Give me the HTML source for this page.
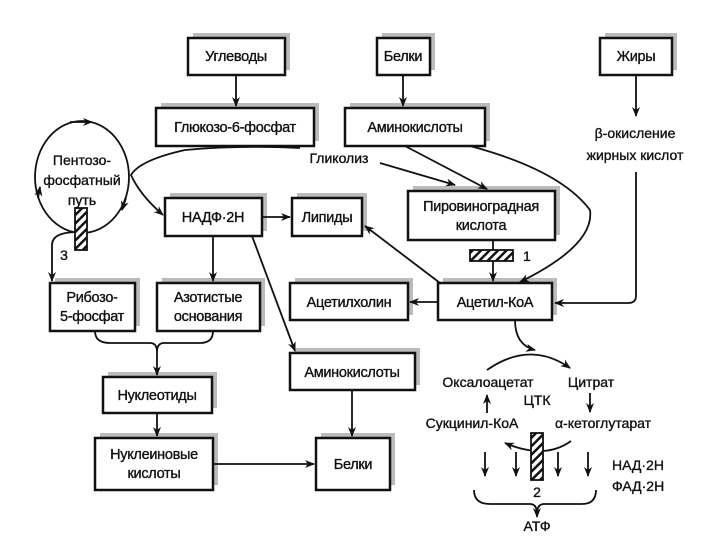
<!DOCTYPE html>
<html><head><meta charset="utf-8"><style>
html,body{margin:0;padding:0;background:#fff;}
svg{display:block;}
text{font-family:"Liberation Sans","DejaVu Sans",sans-serif;font-size:14px;fill:#111;stroke:#111;stroke-width:0.35;text-anchor:middle;}
.bx text{font-size:14.5px;letter-spacing:-0.3px;}
.b{fill:#fff;stroke:#111;stroke-width:2.5;}
.s{fill:#bbb;}
.l{fill:none;stroke:#111;stroke-width:1.8;}
</style></head><body>
<svg width="720" height="540" viewBox="0 0 720 540" xmlns="http://www.w3.org/2000/svg">
<defs>
<marker id="a" markerWidth="10" markerHeight="10" refX="9" refY="5" orient="auto" markerUnits="userSpaceOnUse"><path d="M0,1 L10,5 L0,9 L3,5 Z" fill="#111"/></marker>
<pattern id="h" width="6" height="6" patternUnits="userSpaceOnUse" patternTransform="rotate(45)"><rect width="6" height="6" fill="#fff"/><rect width="2.5" height="6" fill="#111"/></pattern>
</defs>
<g id="boxes">
<rect class="s" x="193" y="33" width="97" height="37"/>
<rect class="s" x="382" y="33" width="53" height="37"/>
<rect class="s" x="605" y="33" width="72" height="37"/>
<rect class="s" x="161" y="103" width="158" height="38"/>
<rect class="s" x="350" y="103" width="140" height="38"/>
<rect class="s" x="170" y="193" width="97" height="38"/>
<rect class="s" x="297" y="193" width="70" height="38"/>
<rect class="s" x="413" y="186" width="147" height="49"/>
<rect class="s" x="295" y="278" width="118" height="37"/>
<rect class="s" x="443" y="278" width="114" height="37"/>
<rect class="s" x="55" y="278" width="85" height="48"/>
<rect class="s" x="162" y="278" width="103" height="48"/>
<rect class="s" x="295" y="348" width="125" height="37"/>
<rect class="s" x="108" y="372" width="109" height="36"/>
<rect class="s" x="100" y="433" width="118" height="52"/>
<rect class="s" x="321" y="433" width="74" height="52"/>
<rect class="b" x="188" y="38" width="97" height="37"/>
<rect class="b" x="377" y="38" width="53" height="37"/>
<rect class="b" x="600" y="38" width="72" height="37"/>
<rect class="b" x="156" y="108" width="158" height="38"/>
<rect class="b" x="345" y="108" width="140" height="38"/>
<rect class="b" x="165" y="198" width="97" height="38"/>
<rect class="b" x="292" y="198" width="70" height="38"/>
<rect class="b" x="408" y="191" width="147" height="49"/>
<rect class="b" x="290" y="283" width="118" height="37"/>
<rect class="b" x="438" y="283" width="114" height="37"/>
<rect class="b" x="50" y="283" width="85" height="48"/>
<rect class="b" x="157" y="283" width="103" height="48"/>
<rect class="b" x="290" y="353" width="125" height="37"/>
<rect class="b" x="103" y="377" width="109" height="36"/>
<rect class="b" x="95" y="438" width="118" height="52"/>
<rect class="b" x="316" y="438" width="74" height="52"/>
</g>
<g class="bx">
<text x="236" y="61">Углеводы</text>
<text x="403" y="61">Белки</text>
<text x="636" y="61">Жиры</text>
<text x="235" y="132">Глюкозо-6-фосфат</text>
<text x="415" y="132">Аминокислоты</text>
<text x="213" y="222">НАДФ·2Н</text>
<text x="327" y="222">Липиды</text>
<text x="481" y="211">Пировиноградная</text>
<text x="481" y="230">кислота</text>
<text x="349" y="307">Ацетилхолин</text>
<text x="495" y="307">Ацетил-КоА</text>
<text x="92" y="302">Рибозо-</text>
<text x="92" y="321">5-фосфат</text>
<text x="208" y="302">Азотистые</text>
<text x="208" y="321">основания</text>
<text x="352" y="377">Аминокислоты</text>
<text x="157" y="400">Нуклеотиды</text>
<text x="154" y="459">Нуклеиновые</text>
<text x="154" y="478">кислоты</text>
<text x="353" y="469">Белки</text>
</g>
<g>
<text x="635" y="138">β-окисление</text>
<text x="635" y="160">жирных кислот</text>
<text x="339" y="163">Гликолиз</text>
<text x="82" y="165">Пентозо-</text>
<text x="82" y="185">фосфатный</text>
<text x="82" y="205">путь</text>
<text x="523" y="261" style="text-anchor:start">1</text>
<text x="64" y="260">3</text>
<text x="488" y="387">Оксалоацетат</text>
<text x="591" y="387">Цитрат</text>
<text x="537" y="405">ЦТК</text>
<text x="472" y="428">Сукцинил-КоА</text>
<text x="603" y="428">α-кетоглутарат</text>
<text x="612" y="470" style="text-anchor:start">НАД·2Н</text>
<text x="612" y="491" style="text-anchor:start">ФАД·2Н</text>
<text x="537" y="497">2</text>
<text x="537" y="531">АТФ</text>
</g>
<g class="l">
<path class="l" d="M236,75 V106" marker-end="url(#a)"/>
<path class="l" d="M403,75 V106" marker-end="url(#a)"/>
<path class="l" d="M636,75 V116" marker-end="url(#a)"/>
<path class="l" d="M636,172 V296 Q636,303 628,303 H555" marker-end="url(#a)"/>
<ellipse class="l" cx="82" cy="177" rx="47" ry="56"/>
<path class="l" d="M70,122 L92,122" marker-end="url(#a)"/>
<path class="l" d="M126,198 L122,210" marker-end="url(#a)"/>
<path class="l" d="M38,198 L40,187" marker-end="url(#a)"/>
<path class="l" d="M300,148 Q240,145 185,150 Q140,160 131,175 Q140,195 163,215" marker-end="url(#a)"/>
<path class="l" d="M380,163 L455,185" marker-end="url(#a)"/>
<path class="l" d="M405,146 L487,189" marker-end="url(#a)"/>
<path class="l" d="M470,146 Q560,170 590,210 Q595,245 520,282" marker-end="url(#a)"/>
<path class="l" d="M262,217 L290,217" marker-end="url(#a)"/>
<path class="l" d="M213,236 V281" marker-end="url(#a)"/>
<path class="l" d="M252,236 L295,351" marker-end="url(#a)"/>
<path class="l" d="M78,232 Q52,232 52,245 V281" marker-end="url(#a)"/>
<path class="l" d="M493,240 V281" marker-end="url(#a)"/>
<path class="l" d="M440,283 L365,226" marker-end="url(#a)"/>
<path class="l" d="M438,302 H410" marker-end="url(#a)"/>
<path class="l" d="M95,331 Q95,343 110,343 H150 Q157,343 157,352 Q157,343 164,343 H200 Q213,343 213,331"/>
<path class="l" d="M157,352 V375" marker-end="url(#a)"/>
<path class="l" d="M157,413 V436" marker-end="url(#a)"/>
<path class="l" d="M213,464 H314" marker-end="url(#a)"/>
<path class="l" d="M352,390 V436" marker-end="url(#a)"/>
<path class="l" d="M515,320 Q515,345 535,350" marker-end="url(#a)"/>
<path class="l" d="M487,370 Q530,340 570,368" marker-end="url(#a)"/>
<path class="l" d="M590,393 V412" marker-end="url(#a)"/>
<path class="l" d="M487,413 V395" marker-end="url(#a)"/>
<path class="l" d="M571,441 Q545,460 505,443" marker-end="url(#a)"/>
<path class="l" d="M485,452 V476" marker-end="url(#a)"/>
<path class="l" d="M516,452 V476" marker-end="url(#a)"/>
<path class="l" d="M558,452 V476" marker-end="url(#a)"/>
<path class="l" d="M588,452 V476" marker-end="url(#a)"/>
<path class="l" d="M474,490 Q474,504 490,504 H530 Q537,504 537,514 Q537,504 544,504 H582 Q596,504 596,490"/>
<path class="l" d="M537,514 V517" marker-end="url(#a)"/>
</g>
<rect x="75" y="208" width="12" height="42" fill="url(#h)" stroke="#111" stroke-width="1.8"/>
<rect x="470" y="250" width="43" height="11" fill="url(#h)" stroke="#111" stroke-width="1.8"/>
<rect x="531" y="433" width="12" height="47" fill="url(#h)" stroke="#111" stroke-width="1.8"/>
</svg>
</body></html>
